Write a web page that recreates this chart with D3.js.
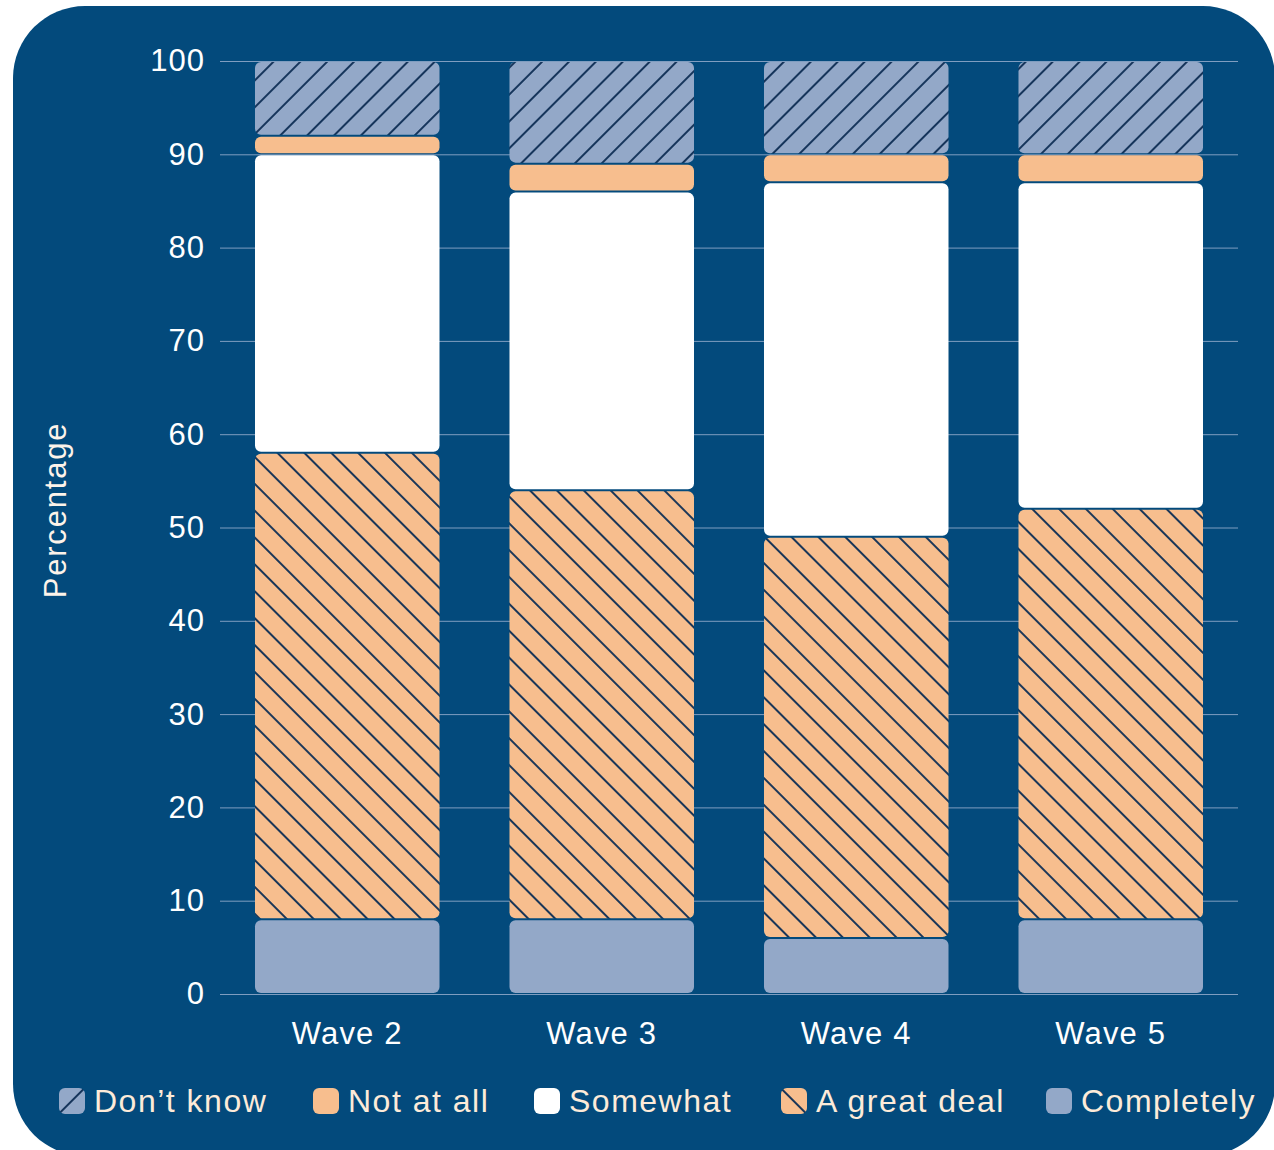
<!DOCTYPE html>
<html lang="en">
<head>
<meta charset="UTF-8">
<title>Stacked bars by wave</title>
<script src="https://d3js.org/d3.v7.min.js"></script>
<style>
  body { margin: 0; background: #fff; }
  svg { display: block; font-family: "Liberation Sans", Arial, sans-serif; }
  .yax .tick text { fill: #fff; font-size: 31px; letter-spacing: 1px; }
  .xax .tick text { fill: #fff; font-size: 31px; letter-spacing: 1.2px; }
  .legendText { fill: #fdebd9; font-size: 32px; letter-spacing: 1.5px; }
</style>
</head>
<body>
<svg width="1274" height="1150"></svg>
<script>
const waves = ["Wave 2", "Wave 3", "Wave 4", "Wave 5"];
// stacked bottom to top
const series = ["Completely", "A great deal", "Somewhat", "Not at all", "Don\u2019t know"];
const completely = [8, 8, 6, 8];
const greatDeal  = [50, 46, 43, 44];
const somewhat   = [32, 32, 38, 35];
const notAtAll   = [2, 3, 3, 3];
const dontKnow   = [8, 11, 10, 10];
const yTicks = [0, 10, 20, 30, 40, 50, 60, 70, 80, 90, 100];
const legendOrder = ["Don\u2019t know", "Not at all", "Somewhat", "A great deal", "Completely"];

const values = [completely, greatDeal, somewhat, notAtAll, dontKnow];
const rows = waves.map((w, i) => {
  const r = { wave: w };
  series.forEach((s, j) => r[s] = values[j][i]);
  return r;
});

const bg = "#034a7c";
const lightBlue = "#93a8c8";
const orange = "#f7be8e";
const hatchCol = "#0f2f55";

const fills = {
  "Completely": lightBlue,
  "A great deal": "url(#hatchBack)",
  "Somewhat": "#ffffff",
  "Not at all": orange,
  "Don\u2019t know": "url(#hatchFwd)"
};

const svg = d3.select("svg");
const defs = svg.append("defs");

function hatch(id, base, angle) {
  const p = defs.append("pattern")
    .attr("id", id)
    .attr("patternUnits", "userSpaceOnUse")
    .attr("width", 19).attr("height", 19)
    .attr("patternTransform", `rotate(${angle})`);
  p.append("rect").attr("width", 19).attr("height", 19).attr("fill", base);
  p.append("line").attr("x1", 9).attr("x2", 9).attr("y1", 0).attr("y2", 19)
    .attr("stroke", hatchCol).attr("stroke-width", 1.9);
}
hatch("hatchFwd", lightBlue, 45);
hatch("hatchBack", orange, -45);

// background panel
svg.append("rect")
  .attr("x", 13).attr("y", 6)
  .attr("width", 1262).attr("height", 1150)
  .attr("rx", 72).attr("fill", bg);

const x = d3.scaleBand().domain(waves).range([220, 1238])
  .paddingInner(0.275).paddingOuter(0.1375);
const y = d3.scaleLinear().domain([0, 100]).range([994, 61]);

// grid + y axis
const yAxis = svg.append("g")
  .attr("class", "yax")
  .attr("transform", "translate(220,0)")
  .call(d3.axisLeft(y).tickValues(yTicks).tickSize(-1018).tickPadding(15));
yAxis.select(".domain").remove();
yAxis.selectAll(".tick line").attr("stroke", "#7f9dc0").attr("stroke-width", 1);

svg.append("text")
  .attr("transform", "translate(66,510) rotate(-90)")
  .attr("text-anchor", "middle")
  .attr("fill", "#fdf3ea")
  .attr("font-size", 31)
  .attr("letter-spacing", 1.8)
  .text("Percentage");

// x axis labels
const xAxis = svg.append("g")
  .attr("class", "xax")
  .attr("transform", "translate(0,994)")
  .call(d3.axisBottom(x).tickSize(0).tickPadding(28));
xAxis.select(".domain").remove();

// bars
const stack = d3.stack().keys(series);
const stacked = stack(rows);
const gap = 1;

svg.append("g").selectAll("g")
  .data(stacked)
  .join("g")
  .attr("fill", d => fills[d.key])
  .selectAll("rect")
  .data(d => d)
  .join("rect")
  .attr("x", d => x(d.data.wave))
  .attr("width", x.bandwidth())
  .attr("y", d => y(d[1]) + gap)
  .attr("height", d => Math.max(0, y(d[0]) - y(d[1]) - gap * 2))
  .attr("rx", 6);

// legend
const legendX = [59, 313, 534, 781, 1046];
const legend = svg.append("g").attr("transform", "translate(0,1101)");
legendOrder.forEach((k, i) => {
  const g = legend.append("g").attr("transform", `translate(${legendX[i]},0)`);
  g.append("rect").attr("x", 0).attr("y", -13).attr("width", 26).attr("height", 26)
    .attr("rx", 6).attr("fill", fills[k]);
  g.append("text").attr("class", "legendText")
    .attr("x", 35).attr("y", 11).text(k);
});
</script>
</body>
</html>
